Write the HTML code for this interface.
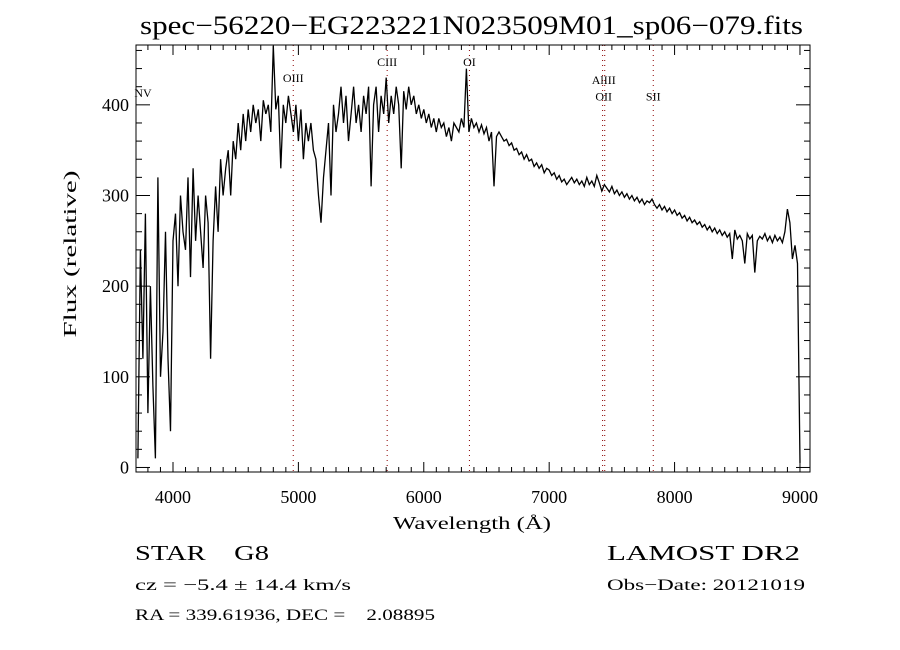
<!DOCTYPE html>
<html><head><meta charset="utf-8"><style>
html,body{margin:0;padding:0;background:#fff;}
svg{display:block;font-family:"Liberation Serif",serif;}
text{white-space:pre;}
</style></head><body>
<svg id="chart" width="900" height="650" viewBox="0 0 900 650" xmlns="http://www.w3.org/2000/svg" xml:space="preserve">
<rect width="900" height="650" fill="#fff"/>
<text x="140" y="34" font-size="26" textLength="663" lengthAdjust="spacingAndGlyphs">spec−56220−EG223221N023509M01_sp06−079.fits</text>
<g id="grid"></g>
<g id="series"></g>
<g id="axes"></g>
<text x="393" y="529" font-size="18" textLength="158" lengthAdjust="spacingAndGlyphs">Wavelength (Å)</text>
<text x="76" y="254" font-size="18" text-anchor="middle" textLength="167" lengthAdjust="spacingAndGlyphs" transform="rotate(-90 76 254)">Flux (relative)</text>
<text x="135" y="560" font-size="21" textLength="134" lengthAdjust="spacingAndGlyphs">STAR    G8</text>
<text x="135" y="590" font-size="16" textLength="216" lengthAdjust="spacingAndGlyphs">cz = −5.4 ± 14.4 km/s</text>
<text x="135" y="620" font-size="16" textLength="300" lengthAdjust="spacingAndGlyphs">RA = 339.61936, DEC =    2.08895</text>
<text x="607" y="560" font-size="21" textLength="193" lengthAdjust="spacingAndGlyphs">LAMOST DR2</text>
<text x="607" y="590" font-size="16" textLength="198" lengthAdjust="spacingAndGlyphs">Obs−Date: 20121019</text>
</svg>
<script>
const waveStart = 3720;
const waveStep = 20;
const flux = [10,240,120,280,60,200,
90,10,320,100,150,260,120,40,250,
280,200,300,260,240,320,210,330,250,300,260,220,300,270,120,250,310,260,340,300,330,350,300,360,340,380,350,390,360,395,370,400,380,395,360,405,390,400,370,465,395,410,330,400,380,410,390,370,400,360,395,340,380,360,380,350,340,300,270,320,350,380,300,400,370,390,420,380,410,360,390,420,380,400,370,410,390,420,310,400,420,370,410,390,430,380,410,390,420,400,330,415,395,420,400,410,390,400,385,395,380,390,375,385,370,385,375,380,365,375,360,380,375,370,385,375,440,370,385,375,380,370,378,368,375,360,370,310,365,370,365,360,362,355,358,350,352,345,348,340,345,338,340,332,336,330,334,325,330,328,322,325,318,322,315,318,312,316,320,314,318,312,316,310,320,312,316,310,322,314,305,312,308,304,310,302,306,300,304,298,302,296,300,294,298,292,296,290,294,292,296,290,286,290,284,288,282,286,280,284,278,281,275,278,272,276,270,273,268,271,265,268,262,266,260,264,258,262,256,260,254,258,230,262,252,256,250,225,258,252,256,215,250,255,252,258,250,255,248,256,250,254,248,260,285,270,230,245,225,5];
const lineWaves = [4959,5708,6364,7426,7443,7830];
const lineLabels = ["OIII","CIII","OI","AlIII","OII","SII"];
const labelWaves = [4959,5708,6364,7435,7435,7830];
const labelFlux = [425,443,443,423,405,405];
const xTicks = [4000,5000,6000,7000,8000,9000];
const yTicks = [0,100,200,300,400];

const L=136,R=810,T=45,B=472;
const X0=3705,X1=9080,Y0=-5,Y1=466;
const xs=w=>L+(w-X0)/(X1-X0)*(R-L);
const ys=v=>B-(v-Y0)/(Y1-Y0)*(B-T);
const NS="http://www.w3.org/2000/svg";
function mk(tag,attrs,parent){const e=document.createElementNS(NS,tag);for(const k in attrs)e.setAttribute(k,attrs[k]);parent.appendChild(e);return e;}
const g=document.getElementById('grid'),s=document.getElementById('series'),a=document.getElementById('axes');

lineWaves.forEach((w,i)=>{
  const l=mk('line',{x1:xs(w),x2:xs(w),y1:T,y2:B,stroke:'#8b0000','stroke-width':1,'stroke-dasharray':'1,4'},g);
  
  
});
lineLabels.forEach((t,i)=>{
  const e=mk('text',{x:xs(labelWaves[i]),y:ys(labelFlux[i]),'font-size':12,'text-anchor':'middle'},g);
  e.textContent=t;
  
  
});
const nv=mk('text',{x:143,y:97,'font-size':12,'text-anchor':'middle'},g);nv.textContent='NV';



let d='';
flux.forEach((v,i)=>{const w=waveStart+i*waveStep;d+=(i?'L':'M')+xs(w).toFixed(1)+','+Math.max(T,ys(v)).toFixed(1);});
const p=mk('path',{d:d,fill:'none',stroke:'#000','stroke-width':1.3},s);



const f=mk('rect',{x:L,y:T,width:R-L,height:B-T,fill:'none',stroke:'#000','stroke-width':1},a);


for(let w=3800;w<=9000;w+=100){
  const len=(w%1000===0)?10:5;
  mk('line',{x1:xs(w),x2:xs(w),y1:B,y2:B-len,stroke:'#000'},a);
  mk('line',{x1:xs(w),x2:xs(w),y1:T,y2:T+len,stroke:'#000'},a);
}
xTicks.forEach(w=>{
  const e=mk('text',{x:xs(w),y:B+31,'font-size':18,'text-anchor':'middle'},a);
  e.textContent=w;
  
  
});
for(let v=0;v<=460;v+=20){
  const len=(v%100===0)?14:6;
  mk('line',{x1:L,x2:L+len,y1:ys(v),y2:ys(v),stroke:'#000'},a);
  mk('line',{x1:R,x2:R-len,y1:ys(v),y2:ys(v),stroke:'#000'},a);
}
yTicks.forEach(v=>{
  const e=mk('text',{x:L-7,y:ys(v)+6,'font-size':18,'text-anchor':'end'},a);
  e.textContent=v;
  
  
});
</script>
</body></html>
